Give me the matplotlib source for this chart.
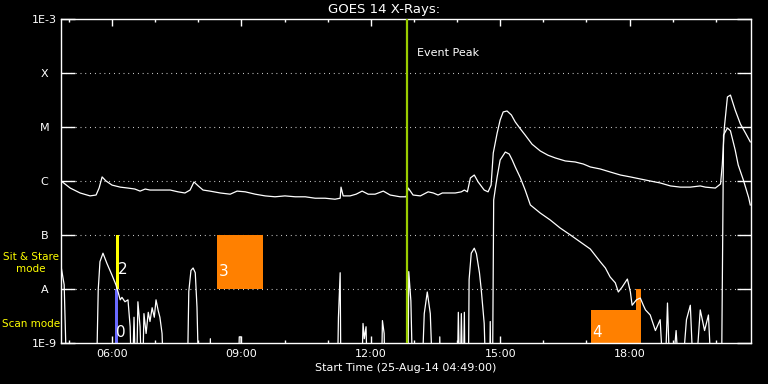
import matplotlib
matplotlib.use("Agg")
import matplotlib.pyplot as plt
from matplotlib.ticker import FixedLocator, FuncFormatter

# time in decimal hours (25-Aug-14), flux in W/m^2
# long channel (1-8 A)
long_t = [4.82, 5.03, 5.26, 5.49, 5.63, 5.70, 5.77, 5.86, 6.00, 6.19,
          6.37, 6.53, 6.65, 6.77, 6.88, 7.11, 7.35, 7.53, 7.69, 7.81,
          7.90, 8.00, 8.11, 8.27, 8.51, 8.74, 8.90, 9.09, 9.32, 9.55,
          9.78, 10.01, 10.25, 10.48, 10.71, 10.94, 11.17, 11.29, 11.31, 11.36,
          11.52, 11.66, 11.80, 11.94, 12.10, 12.29, 12.45, 12.68, 12.82, 12.87,
          12.98, 13.15, 13.33, 13.45, 13.56, 13.66, 13.96, 14.10, 14.17, 14.24,
          14.31, 14.40, 14.49, 14.63, 14.72, 14.79, 14.84, 14.93, 15.00, 15.07,
          15.16, 15.26, 15.35, 15.47, 15.58, 15.74, 15.93, 16.11, 16.28, 16.51,
          16.74, 16.93, 17.09, 17.32, 17.55, 17.79, 18.02, 18.25, 18.48, 18.71,
          18.95, 19.18, 19.41, 19.64, 19.76, 19.99, 20.11, 20.15, 20.20, 20.27,
          20.34, 20.45, 20.57, 20.69, 20.80]
long_f = [1.0e-6, 7.4e-7, 6.0e-7, 5.3e-7, 5.5e-7, 7.4e-7, 1.19e-6, 1.0e-6, 8.4e-7, 7.7e-7,
          7.4e-7, 7.1e-7, 6.5e-7, 7.1e-7, 6.8e-7, 6.8e-7, 6.8e-7, 6.3e-7, 6.0e-7, 6.8e-7,
          9.6e-7, 8.1e-7, 6.8e-7, 6.5e-7, 6.0e-7, 5.7e-7, 6.5e-7, 6.3e-7, 5.7e-7, 5.3e-7,
          5.1e-7, 5.3e-7, 5.1e-7, 5.1e-7, 4.8e-7, 4.8e-7, 4.6e-7, 4.8e-7, 7.7e-7, 5.3e-7,
          5.3e-7, 5.7e-7, 6.5e-7, 5.7e-7, 5.7e-7, 6.5e-7, 5.5e-7, 5.1e-7, 5.1e-7, 7.4e-7,
          5.5e-7, 5.3e-7, 6.3e-7, 6.0e-7, 5.5e-7, 6.0e-7, 6.0e-7, 6.3e-7, 6.8e-7, 6.3e-7,
          1.14e-6, 1.29e-6, 9.6e-7, 6.8e-7, 6.3e-7, 8.4e-7, 3.3e-6, 7.7e-6, 1.35e-5, 1.9e-5,
          1.98e-5, 1.67e-5, 1.24e-5, 9.2e-6, 7.1e-6, 4.8e-6, 3.6e-6, 3.0e-6, 2.67e-6, 2.35e-6,
          2.25e-6, 2.06e-6, 1.82e-6, 1.67e-6, 1.47e-6, 1.29e-6, 1.19e-6, 1.09e-6, 1.0e-6, 9.2e-7,
          8.1e-7, 7.7e-7, 7.7e-7, 8.1e-7, 7.7e-7, 7.4e-7, 8.8e-7, 1.98e-6, 1.0e-5, 3.6e-5,
          3.9e-5, 2.06e-5, 1.14e-5, 7.7e-6, 5.3e-6]

# short channel (0.5-4 A); 1e-10 means below the plot floor
short_t = [4.82, 4.89, 4.96, 5.63, 5.68, 5.72, 5.79, 5.88, 6.00, 6.09,
           6.14, 6.19, 6.23, 6.30, 6.37, 6.42, 6.46, 6.51, 6.56, 6.60,
           6.65, 6.70, 6.74, 6.79, 6.84, 6.88, 6.93, 6.98, 7.02, 7.07,
           7.11, 7.16, 7.21,
           7.74, 7.78, 7.83, 7.88, 7.93, 7.97, 8.02, 8.26, 8.28, 8.30,
           8.92, 8.95, 8.99, 9.02,
           11.22, 11.25, 11.29, 11.31, 11.78, 11.82, 11.85, 11.89, 11.93, 12.24,
           12.27, 12.31, 12.34, 12.86, 12.88, 12.93, 12.98, 13.17, 13.24, 13.31,
           13.38, 13.45, 13.58, 13.60, 13.63, 14.00, 14.03, 14.07, 14.10, 14.14,
           14.17, 14.19, 14.26, 14.28, 14.33, 14.40, 14.45, 14.52, 14.56, 14.63,
           14.68, 14.75, 14.77, 14.79, 14.82,
           14.85, 14.89, 14.93, 15.00, 15.12, 15.21, 15.28, 15.35, 15.47, 15.58,
           15.70, 15.93, 16.16, 16.39, 16.63, 16.86, 17.09, 17.32, 17.44, 17.55,
           17.67, 17.74, 17.83, 17.95, 18.02, 18.06, 18.16, 18.25, 18.32, 18.37,
           18.48, 18.60, 18.71, 18.81, 18.88, 18.95, 19.08, 19.18, 19.32, 19.41,
           19.50, 19.64, 19.74, 19.83, 19.92, 20.13,
           20.18, 20.27, 20.34, 20.45, 20.52, 20.64, 20.76, 20.80]
short_f = [2.56e-8, 1.2e-8, 1e-10, 1e-10, 9.6e-9, 3.2e-8, 4.6e-8, 3.0e-8, 1.8e-8, 1.2e-8,
           8.8e-9, 6.3e-9, 7.0e-9, 5.8e-9, 6.3e-9, 2.0e-9, 1e-10, 3.0e-9, 1e-10, 5.8e-9,
           2.0e-9, 1e-10, 3.5e-9, 1.5e-9, 3.7e-9, 2.5e-9, 4.5e-9, 3.0e-9, 6.3e-9, 4.0e-9,
           3.0e-9, 1.5e-9, 1e-10,
           1e-10, 9e-9, 2.2e-8, 2.45e-8, 2.0e-8, 4.6e-9, 1e-10, 1e-10, 1.2e-9, 1e-10,
           1e-10, 1.3e-9, 1.3e-9, 1e-10,
           1e-10, 3e-9, 2.0e-8, 1e-10, 1e-10, 2.3e-9, 1.2e-9, 2.0e-9, 1e-10, 1e-10,
           2.6e-9, 1.5e-9, 1e-10, 1e-10, 2.1e-8, 6e-9, 1e-10, 1e-10, 3.5e-9, 8.8e-9,
           3.5e-9, 1e-10, 1e-10, 1.3e-9, 1e-10, 1e-10, 3.7e-9, 1e-10, 3.5e-9, 1e-10,
           3.7e-9, 1e-10, 1e-10, 1.5e-8, 4.6e-8, 5.7e-8, 4.5e-8, 2.0e-8, 1.0e-8, 2.3e-9,
           1e-10, 1e-10, 2.5e-9, 1e-10, 1e-10,
           4.45e-7, 7.4e-7, 1.19e-6, 2.45e-6, 3.44e-6, 3.16e-6, 2.45e-6, 1.82e-6, 1.14e-6, 6.8e-7,
           3.6e-7, 2.55e-7, 1.9e-7, 1.35e-7, 1.0e-7, 7.4e-8, 5.5e-8, 3.2e-8, 2.45e-8, 1.67e-8,
           1.3e-8, 8.8e-9, 1.09e-8, 1.53e-8, 8.8e-9, 5.0e-9, 6.3e-9, 6.8e-9, 5.0e-9, 4.1e-9,
           3.3e-9, 1.7e-9, 2.7e-9, 1e-10, 5.5e-9, 1e-10, 1.7e-9, 1e-10, 2.7e-9, 5.0e-9,
           1e-10, 4.1e-9, 1.7e-9, 3.3e-9, 1e-10, 1e-10,
           7.1e-6, 9.6e-6, 8.5e-6, 3.75e-6, 1.98e-6, 1.04e-6, 5.0e-7, 3.6e-7]

levels = [1e-9, 1e-8, 1e-7, 1e-6, 1e-5, 1e-4, 1e-3]
level_labels = ["1E-9", "A", "B", "C", "M", "X", "1E-3"]
hour_ticks = [6, 9, 12, 15, 18]

t_start = 4 + 49 / 60
t_end = 20 + 49 / 60
t_peak = 12.85

# observing mode boxes: (t0, t1, f0, f1, colour, label, label flux)
boxes = [
    (6.07, 6.13, 1e-9, 1e-8, "#6a6aff", "0", 1.15e-9),
    (6.10, 6.16, 1e-8, 1e-7, "#ffff00", "2", 1.7e-8),
    (8.44, 9.50, 1e-8, 1e-7, "#ff8000", "3", 1.55e-8),
    (17.11, 18.27, 1e-9, 4.1e-9, "#ff8000", "4", 1.15e-9),
    (18.16, 18.27, 4.1e-9, 1e-8, "#ff8000", "", None),
]

fig = plt.figure(figsize=(7.68, 3.84), dpi=100, facecolor="black")
ax = fig.add_axes([61 / 768, 41 / 384, 690 / 768, 324 / 384])
ax.set_facecolor("black")
ax.set_yscale("log")
ax.set_xlim(t_start, t_end)
ax.set_ylim(1e-9, 1e-3)

for t0, t1, f0, f1, c, lab, lab_f in boxes:
    ax.fill_between([t0, t1], f0, f1, color=c, lw=0, zorder=2)
    if lab:
        ax.text(t0 + 0.03, lab_f, lab, color="white", fontsize=11, zorder=5,
                va="bottom", ha="left")

ax.plot(long_t, long_f, color="white", lw=0.9, zorder=3)
ax.plot(short_t, short_f, color="white", lw=0.9, zorder=3)

ax.axvline(t_peak, color="#9acd00", lw=1.6, zorder=4)
ax.text(t_peak + 0.22, 2.3e-4, "Event Peak", color="white", fontsize=8, va="center")

for lv in levels[1:-1]:
    ax.axhline(lv, color="white", lw=0.8, ls=(0, (0.7, 3.6)), zorder=1)

for s in ax.spines.values():
    s.set_color("white")
    s.set_linewidth(1.0)

ax.yaxis.set_major_locator(FixedLocator(levels))
ax.yaxis.set_minor_locator(FixedLocator([]))
ax.set_yticks(levels)
ax.set_yticklabels(level_labels)
ax.tick_params(axis="y", which="major", direction="in", length=10, width=1, colors="white",
               left=True, right=True, pad=12, labelsize=8)
for lab in ax.get_yticklabels():
    lab.set_horizontalalignment("center")

ax.xaxis.set_major_locator(FixedLocator(hour_ticks))
ax.xaxis.set_minor_locator(FixedLocator(list(range(5, 21))))
ax.xaxis.set_major_formatter(FuncFormatter(lambda v, p: "%02d:00" % int(round(v))))
ax.tick_params(axis="x", which="major", direction="in", length=5, width=1, colors="white",
               top=True, bottom=True, pad=4, labelsize=8)
ax.tick_params(axis="x", which="minor", direction="in", length=2.5, width=1, colors="white",
               top=True, bottom=True)

ax.set_xlabel("Start Time (25-Aug-14 04:49:00)", color="white", fontsize=8, labelpad=3)
fig.text(0.5, 0.975, "GOES 14 X-Rays:", color="white", fontsize=9.5, ha="center", va="center")

fig.text(31 / 768, 1 - 263 / 384, "Sit & Stare\nmode", color="#ffff00", fontsize=7.5,
         ha="center", va="center", linespacing=1.2)
fig.text(2 / 768, 1 - 324 / 384, "Scan mode", color="#ffff00", fontsize=7.5,
         ha="left", va="center")

fig.savefig("out.png", dpi=100, facecolor="black")
